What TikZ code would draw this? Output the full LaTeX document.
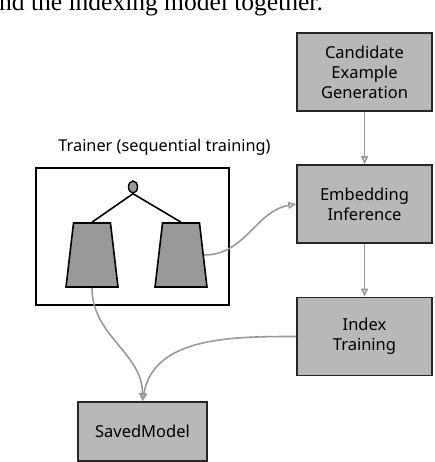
\documentclass[tikz,border=0pt]{standalone}
\usepackage{fontspec}
\setmainfont{Noto Sans}
\newfontfamily\bodyserif{Liberation Serif}
\usetikzlibrary{arrows.meta,shapes.geometric}

\begin{document}
\begin{tikzpicture}[
	x=1pt, y=-1pt,
	b/.style = {rectangle, draw=black!85, fill=black!28, line width=1.6pt, minimum width=135, minimum height=78, align=center, font=\fontsize{16.5}{20}\selectfont},
	tr/.style = {trapezium, trapezium stretches=true, trapezium angle=78.5, draw=black, fill=black!40, line width=1.6pt, minimum width=52, minimum height=64, inner sep=4pt},
	r/.style = {-{Triangle[open,length=8pt,width=7pt]}, draw=black!40, line width=1.6pt}
	]
	\useasboundingbox (0,0) rectangle (434,462);
	
	%Text
	\node[anchor=base west, inner sep=0pt, font=\bodyserif\fontsize{25.5}{30}\selectfont] (cut) at (-1, 11) {nd the indexing model together.};
	
	%Nodes
	\node[b]	(cand)	at	(364.5, 72)		{Candidate\\Example\\Generation};
	\node[b]	(emb)	at	(364.5, 204)	{Embedding\\Inference};
	\node[b]	(idx)	at	(364.5, 336.5)	{Index\\Training};
	\node[b, minimum width=129, minimum height=59]	(sm)	at	(142.5, 431.5)	{SavedModel};
	
	\node[rectangle, draw=black, line width=1.8pt, minimum width=193, minimum height=137]	(trainer)	at	(132.5, 236.5)	{};
	\node[font=\fontsize{16.3}{20}\selectfont]	(title)	at	(164.5, 147)	{Trainer (sequential training)};
	\node[ellipse, draw=black, fill=black!40, line width=1.4pt, minimum width=9, minimum height=12, inner sep=0pt]	(top)	at	(133, 187)	{};
	\node[tr]	(tr-l)	at	(92, 255)	{};
	\node[tr]	(tr-r)	at	(181, 255)	{};
	
	%Lines
	\draw[line width=1.6pt]	(top.south)	--	(tr-l.north);
	\draw[line width=1.6pt]	(top.south)	--	(tr-r.north);
	\draw[r]	(cand.south)	--	(emb.north);
	\draw[r]	(emb.south)	--	(idx.north);
	\draw[r]	(tr-r.east)	to[out=0, in=190]	(emb.west);
	\draw[r]	(tr-l.south)	to[out=-90, in=90]	(sm.north);
	\draw[r]	(idx.west)	to[out=180, in=80]	(sm.north);
	
\end{tikzpicture}
\end{document}
